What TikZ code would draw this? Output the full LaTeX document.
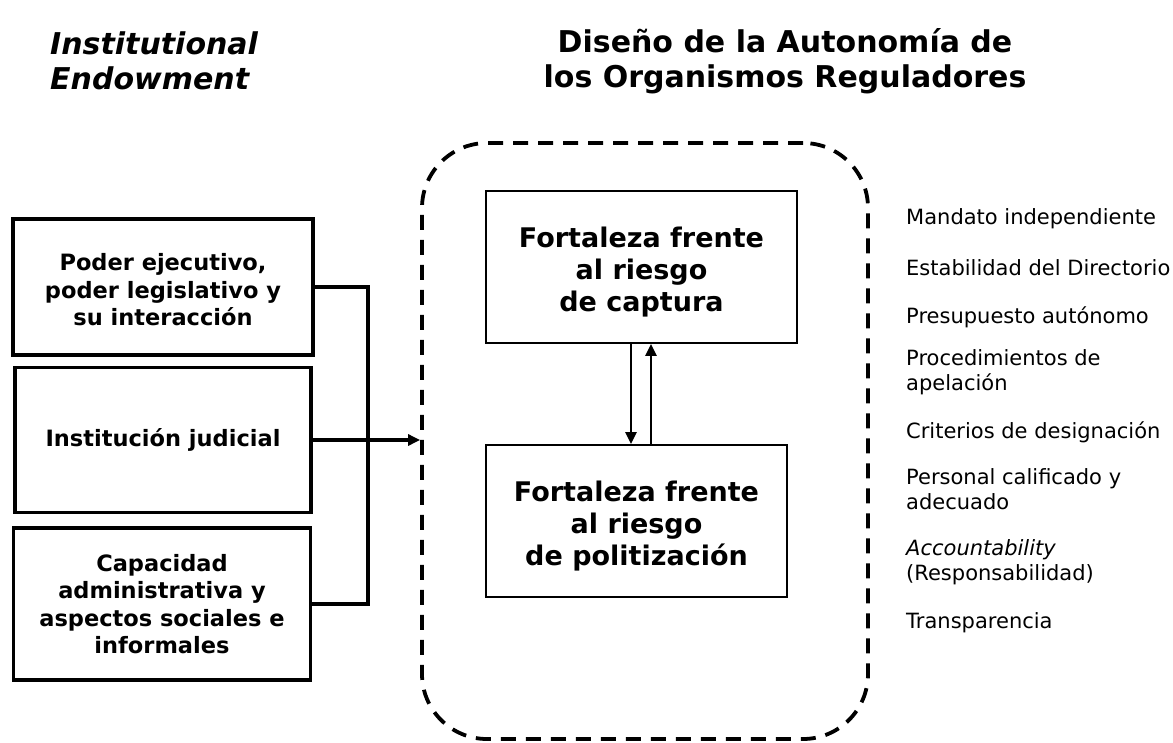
\documentclass[tikz,border=0pt]{standalone}
\usepackage{fontspec}
\setmainfont{DejaVu Sans}
\usetikzlibrary{arrows.meta}

\tikzset{
  srcbox/.style={draw,line width=3.8pt,align=center,font=\fontsize{22.5}{27.5}\selectfont\bfseries},
  riskbox/.style={draw,line width=1.8pt,align=center,font=\fontsize{27}{32}\selectfont\bfseries},
  item/.style={anchor=west,align=left,inner sep=0pt,font=\fontsize{21}{25}\selectfont},
  heading/.style={align=center,font=\fontsize{30}{35}\selectfont\bfseries},
  tip/.style={-{Triangle[length=12pt,width=11pt]}}
}

\begin{document}
\begin{tikzpicture}[x=1pt,y=-1pt]
\useasboundingbox (0,0) rectangle (1173,742);

\node[heading,font=\fontsize{30}{35}\selectfont\bfseries\itshape,align=left,anchor=west,inner sep=0pt] (endow) at (50,61) {Institutional\\Endowment};
\node[heading] (design) at (785,61) {Diseño de la Autonomía de\\los Organismos Reguladores};

\node[srcbox,minimum width=300pt,minimum height=136pt] (b1) at (163,287) {\raisebox{-3pt}[\height][\depth]{\parbox{290pt}{\centering Poder ejecutivo,\\poder legislativo y\\su interacción}}};
\node[srcbox,minimum width=296pt,minimum height=145pt] (b2) at (163,440) {Institución judicial};
\node[srcbox,minimum width=297pt,minimum height=152pt] (b3) at (162,604) {Capacidad\\administrativa y\\aspectos sociales e\\informales};

\node[draw,line width=3.8pt,dash pattern=on 15pt off 10pt,rounded corners=65pt,minimum width=446pt,minimum height=596pt] (frame) at (645,441) {};

\node[riskbox,minimum width=311pt,minimum height=152pt] (cap) at (641.5,267) {\raisebox{-5pt}[\height][\depth]{\parbox{300pt}{\centering Fortaleza frente\\al riesgo\\de captura}}};
\node[riskbox,minimum width=301pt,minimum height=152pt] (pol) at (636.5,521) {\raisebox{-5pt}[\height][\depth]{\parbox{290pt}{\centering Fortaleza frente\\al riesgo\\de politización}}};

\coordinate (bus) at (368,0);
\draw[line width=3.8pt] (b1.east) -- (b1.east -| bus) |- (b3.east);
\draw[line width=3.8pt,tip] (b2.east) -- (b2.east -| frame.west);

\draw[line width=2.6pt,tip] ([xshift=-10.5pt]cap.south) -- ([xshift=-10.5pt]cap.south |- pol.north);
\draw[line width=2.6pt,tip] ([xshift=14.5pt]pol.north) -- ([xshift=14.5pt]pol.north |- cap.south);

\node[item] (i1) at (906,219) {Mandato independiente};
\node[item] (i2) at (906,268) {Estabilidad del Directorio};
\node[item] (i3) at (906,317) {Presupuesto autónomo};
\node[item] (i4) at (906,372.5) {Procedimientos de\\apelación};
\node[item] (i5) at (906,432) {Criterios de designación};
\node[item] (i6) at (906,489) {Personal calificado y\\adecuado};
\node[item] (i7) at (906,562.5) {\textit{Accountability}\\(Responsabilidad)};
\node[item] (i8) at (906,623) {Transparencia};
\end{tikzpicture}
\end{document}
